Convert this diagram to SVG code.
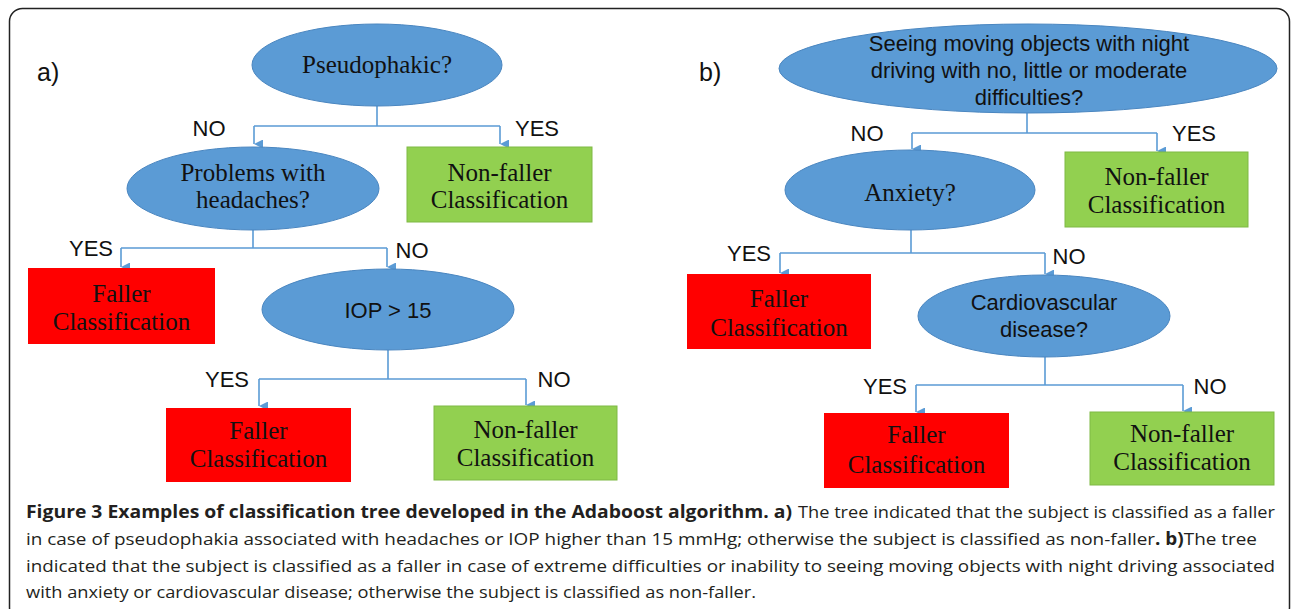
<svg xmlns="http://www.w3.org/2000/svg" width="1292" height="609" viewBox="0 0 1292 609">
<defs>
<marker id="arr" viewBox="0 0 10 10" refX="5" refY="10" markerWidth="9" markerHeight="9" markerUnits="userSpaceOnUse" orient="auto-start-reverse">
<path d="M0,0 L10,0 L5,10 Z" fill="#5B9BD5"/>
</marker>
<style>
.q{fill:#5B9BD5;stroke:#4A86C0;stroke-width:1}
.red{fill:#FF0000}
.grn{fill:#92D050;stroke:#7FB944;stroke-width:1}
.tm{font-family:"Liberation Serif","Times New Roman",serif;font-size:25px;fill:#111;text-anchor:middle}
.ar{font-family:"Liberation Sans",Arial,sans-serif;font-size:22px;fill:#111;text-anchor:middle}
.lb{font-family:"Liberation Sans",Arial,sans-serif;font-size:22px;fill:#111;text-anchor:middle}
.pl{font-family:"Liberation Sans",Arial,sans-serif;font-size:25px;fill:#111}
.ln{fill:none;stroke:#5B9BD5;stroke-width:1.6}
.cap{font-family:"Open Sans","Noto Sans",sans-serif;font-size:17px;fill:#231F20}
.b{font-weight:bold}
</style>
</defs>
<rect x="9.5" y="8.5" width="1280" height="612" rx="13" fill="#fff" stroke="#222" stroke-width="1.5"/>

<text class="pl" x="37" y="81">a)</text>
<text class="pl" x="699" y="81">b)</text>

<g id="connectors">
<path class="ln" d="M377,106 V126 M254,126 H500"/>
<path class="ln" d="M254,126 V144" marker-end="url(#arr)"/>
<path class="ln" d="M500,126 V144" marker-end="url(#arr)"/>
<path class="ln" d="M253,230 V248 M121,248 H387"/>
<path class="ln" d="M121,248 V267" marker-end="url(#arr)"/>
<path class="ln" d="M387,248 V267" marker-end="url(#arr)"/>
<path class="ln" d="M388,350 V379 M259,379 H526"/>
<path class="ln" d="M259,379 V406" marker-end="url(#arr)"/>
<path class="ln" d="M526,379 V405" marker-end="url(#arr)"/>
<path class="ln" d="M1027,113 V133 M912,133 H1157"/>
<path class="ln" d="M912,133 V149" marker-end="url(#arr)"/>
<path class="ln" d="M1157,133 V151" marker-end="url(#arr)"/>
<path class="ln" d="M911,230 V253 M780,253 H1045"/>
<path class="ln" d="M780,253 V273" marker-end="url(#arr)"/>
<path class="ln" d="M1045,253 V274" marker-end="url(#arr)"/>
<path class="ln" d="M1045,357 V385 M916,385 H1183"/>
<path class="ln" d="M916,385 V412" marker-end="url(#arr)"/>
<path class="ln" d="M1183,385 V411" marker-end="url(#arr)"/>
<text class="lb" x="209" y="136">NO</text>
<text class="lb" x="537" y="136">YES</text>
<text class="lb" x="91" y="256">YES</text>
<text class="lb" x="412" y="258">NO</text>
<text class="lb" x="227" y="387">YES</text>
<text class="lb" x="554" y="387">NO</text>
<text class="lb" x="867" y="141">NO</text>
<text class="lb" x="1194" y="141">YES</text>
<text class="lb" x="749" y="261">YES</text>
<text class="lb" x="1069" y="264">NO</text>
<text class="lb" x="885" y="394">YES</text>
<text class="lb" x="1210" y="394">NO</text>
</g>

<g id="a-pseudophakic">
<ellipse class="q" cx="377" cy="65" rx="125" ry="41"/>
<text class="tm" x="377" y="73">Pseudophakic?</text>
</g>
<g id="a-nonfaller-1">
<rect class="grn" x="407" y="147" width="185" height="75"/>
<text class="tm" x="499.5" y="181">Non-faller</text>
<text class="tm" x="499.5" y="208">Classification</text>
</g>
<g id="a-headaches">
<ellipse class="q" cx="253" cy="188.5" rx="126" ry="41.5"/>
<text class="tm" x="253" y="181">Problems with</text>
<text class="tm" x="253" y="208">headaches?</text>
</g>
<g id="a-faller-1">
<rect class="red" x="28" y="268" width="187" height="76"/>
<text class="tm" x="121.5" y="302">Faller</text>
<text class="tm" x="121.5" y="330">Classification</text>
</g>
<g id="a-iop">
<ellipse class="q" cx="388" cy="309.5" rx="126" ry="40.5"/>
<text class="ar" x="388" y="318">IOP &gt; 15</text>
</g>
<g id="a-faller-2">
<rect class="red" x="166" y="408" width="185" height="74"/>
<text class="tm" x="258.5" y="439">Faller</text>
<text class="tm" x="258.5" y="467">Classification</text>
</g>
<g id="a-nonfaller-2">
<rect class="grn" x="434" y="406" width="183" height="74"/>
<text class="tm" x="525.5" y="438">Non-faller</text>
<text class="tm" x="525.5" y="466">Classification</text>
</g>

<g id="b-night">
<ellipse class="q" cx="1028" cy="68.5" rx="249" ry="44.5"/>
<text class="ar" x="1029" y="51">Seeing moving objects with night</text>
<text class="ar" x="1029" y="78">driving with no, little or moderate</text>
<text class="ar" x="1029" y="105">difficulties?</text>
</g>
<g id="b-nonfaller-1">
<rect class="grn" x="1065" y="152" width="183" height="75"/>
<text class="tm" x="1156.5" y="185">Non-faller</text>
<text class="tm" x="1156.5" y="213">Classification</text>
</g>
<g id="b-anxiety">
<ellipse class="q" cx="910" cy="190" rx="125" ry="40"/>
<text class="tm" x="910" y="201">Anxiety?</text>
</g>
<g id="b-faller-1">
<rect class="red" x="687" y="274" width="184" height="75"/>
<text class="tm" x="779" y="307">Faller</text>
<text class="tm" x="779" y="336">Classification</text>
</g>
<g id="b-cardio">
<ellipse class="q" cx="1044" cy="316" rx="126" ry="41"/>
<text class="ar" x="1044" y="310">Cardiovascular</text>
<text class="ar" x="1044" y="337">disease?</text>
</g>
<g id="b-faller-2">
<rect class="red" x="824" y="413" width="185" height="75"/>
<text class="tm" x="916.5" y="443">Faller</text>
<text class="tm" x="916.5" y="473">Classification</text>
</g>
<g id="b-nonfaller-2">
<rect class="grn" x="1090" y="412" width="184" height="73"/>
<text class="tm" x="1182" y="442">Non-faller</text>
<text class="tm" x="1182" y="470">Classification</text>
</g>

<g id="caption">
<text class="cap b" x="26" y="518" textLength="766" lengthAdjust="spacingAndGlyphs">Figure 3 Examples of classification tree developed in the Adaboost algorithm. a)</text>
<text class="cap" x="798" y="518" textLength="477" lengthAdjust="spacingAndGlyphs">The tree indicated that the subject is classified as a faller</text>
<text class="cap" x="26" y="545" textLength="1231" lengthAdjust="spacingAndGlyphs">in case of pseudophakia associated with headaches or IOP higher than 15 mmHg; otherwise the subject is classified as non-faller<tspan class="b">. b)</tspan>The tree</text>
<text class="cap" x="26" y="572" textLength="1249" lengthAdjust="spacingAndGlyphs">indicated that the subject is classified as a faller in case of extreme difficulties or inability to seeing moving objects with night driving associated</text>
<text class="cap" x="26" y="598" textLength="730" lengthAdjust="spacingAndGlyphs">with anxiety or cardiovascular disease; otherwise the subject is classified as non-faller.</text>
</g>
</svg>
